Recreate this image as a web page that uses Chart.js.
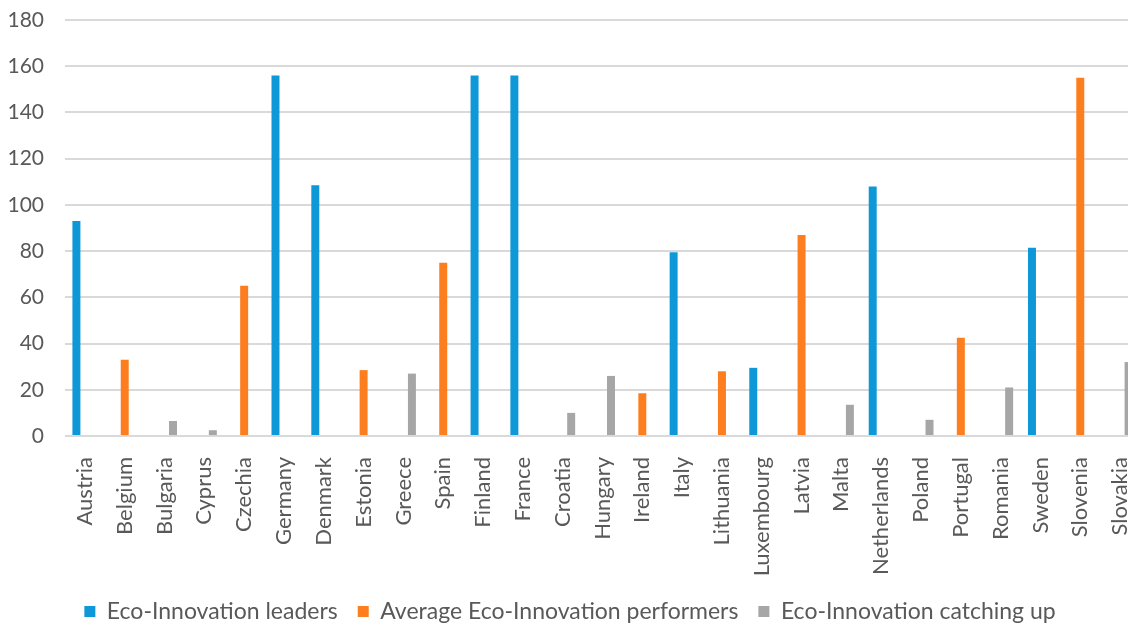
<!DOCTYPE html>
<html>
<head>
<meta charset="utf-8">
<script src="https://cdn.jsdelivr.net/npm/chart.js@4/dist/chart.umd.min.js"></script>
<style>
  html, body { margin: 0; padding: 0; background: #fff; overflow: hidden; }
  #wrap { width: 1128px; height: 628px; overflow: hidden; }
</style>
</head>
<body>
<div id="wrap"><canvas id="myChart" width="1160" height="640"></canvas></div>
<script>
"use strict";

const countries = ["Austria", "Belgium", "Bulgaria", "Cyprus", "Czechia", "Germany", "Denmark",
  "Estonia", "Greece", "Spain", "Finland", "France", "Croatia", "Hungary", "Ireland", "Italy",
  "Lithuania", "Luxembourg", "Latvia", "Malta", "Netherlands", "Poland", "Portugal", "Romania",
  "Sweden", "Slovenia", "Slovakia"];

const leaders = [93, null, null, null, null, 156, 108.5, null, null, null, 156, 156, null, null,
  null, 79.5, null, 29.5, null, null, 108, null, null, null, 81.5, null, null];

const performers = [null, 33, null, null, 65, null, null, 28.5, null, 75, null, null, null, null,
  18.5, null, 28, null, 87, null, null, null, 42.5, null, null, 155, null];

const catchingUp = [null, null, 6.5, 2.5, null, null, null, null, 27, null, null, null, 10, 26,
  null, null, null, null, null, 13.5, null, 7, null, 21, null, null, 32];

const yTicks = [0, 20, 40, 60, 80, 100, 120, 140, 160, 180];

const textColor = "#595959";
const fontFamily = "Lato, 'Open Sans', sans-serif";

const ctx = document.getElementById("myChart").getContext("2d");
const myChart = new Chart(ctx, {
  type: "bar",
  data: {
    labels: countries,
    datasets: [
      { label: "Eco-Innovation leaders", data: leaders, backgroundColor: "#0e98d8" },
      { label: "Average Eco-Innovation performers", data: performers, backgroundColor: "#fd7e1e" },
      { label: "Eco-Innovation catching up", data: catchingUp, backgroundColor: "#a6a6a6" },
    ],
  },
  options: {
    responsive: false,
    animation: false,
    devicePixelRatio: 1,
    categoryPercentage: 0.64,
    barPercentage: 0.94,
    layout: { padding: { top: 20, right: 20, left: 0, bottom: 7 } },
    plugins: {
      tooltip: { enabled: false },
      legend: {
        position: "bottom",
        labels: {
          color: textColor,
          font: { family: fontFamily, size: 23 },
          boxWidth: 11,
          boxHeight: 11,
          padding: 20,
        },
      },
    },
    scales: {
      x: {
        grid: { display: false },
        border: { display: false },
        ticks: {
          autoSkip: false,
          minRotation: 90,
          maxRotation: 90,
          padding: 13,
          color: textColor,
          font: { family: fontFamily, size: 22 },
        },
        afterFit: (scale) => {
          scale.height = 144;
          scale.paddingLeft = 0;
          scale.paddingRight = 0;
        },
      },
      y: {
        min: 0,
        max: 180,
        afterBuildTicks: (axis) => {
          axis.ticks = yTicks.map((v) => ({ value: v }));
        },
        grid: { color: "#d9d9d9", lineWidth: 2, drawTicks: false },
        border: { display: false },
        ticks: {
          padding: 21,
          color: textColor,
          font: { family: fontFamily, size: 21 },
        },
        afterFit: (scale) => {
          scale.width = 65;
          scale.paddingTop = 0;
          scale.paddingBottom = 0;
        },
      },
    },
  },
});
</script>
</body>
</html>
